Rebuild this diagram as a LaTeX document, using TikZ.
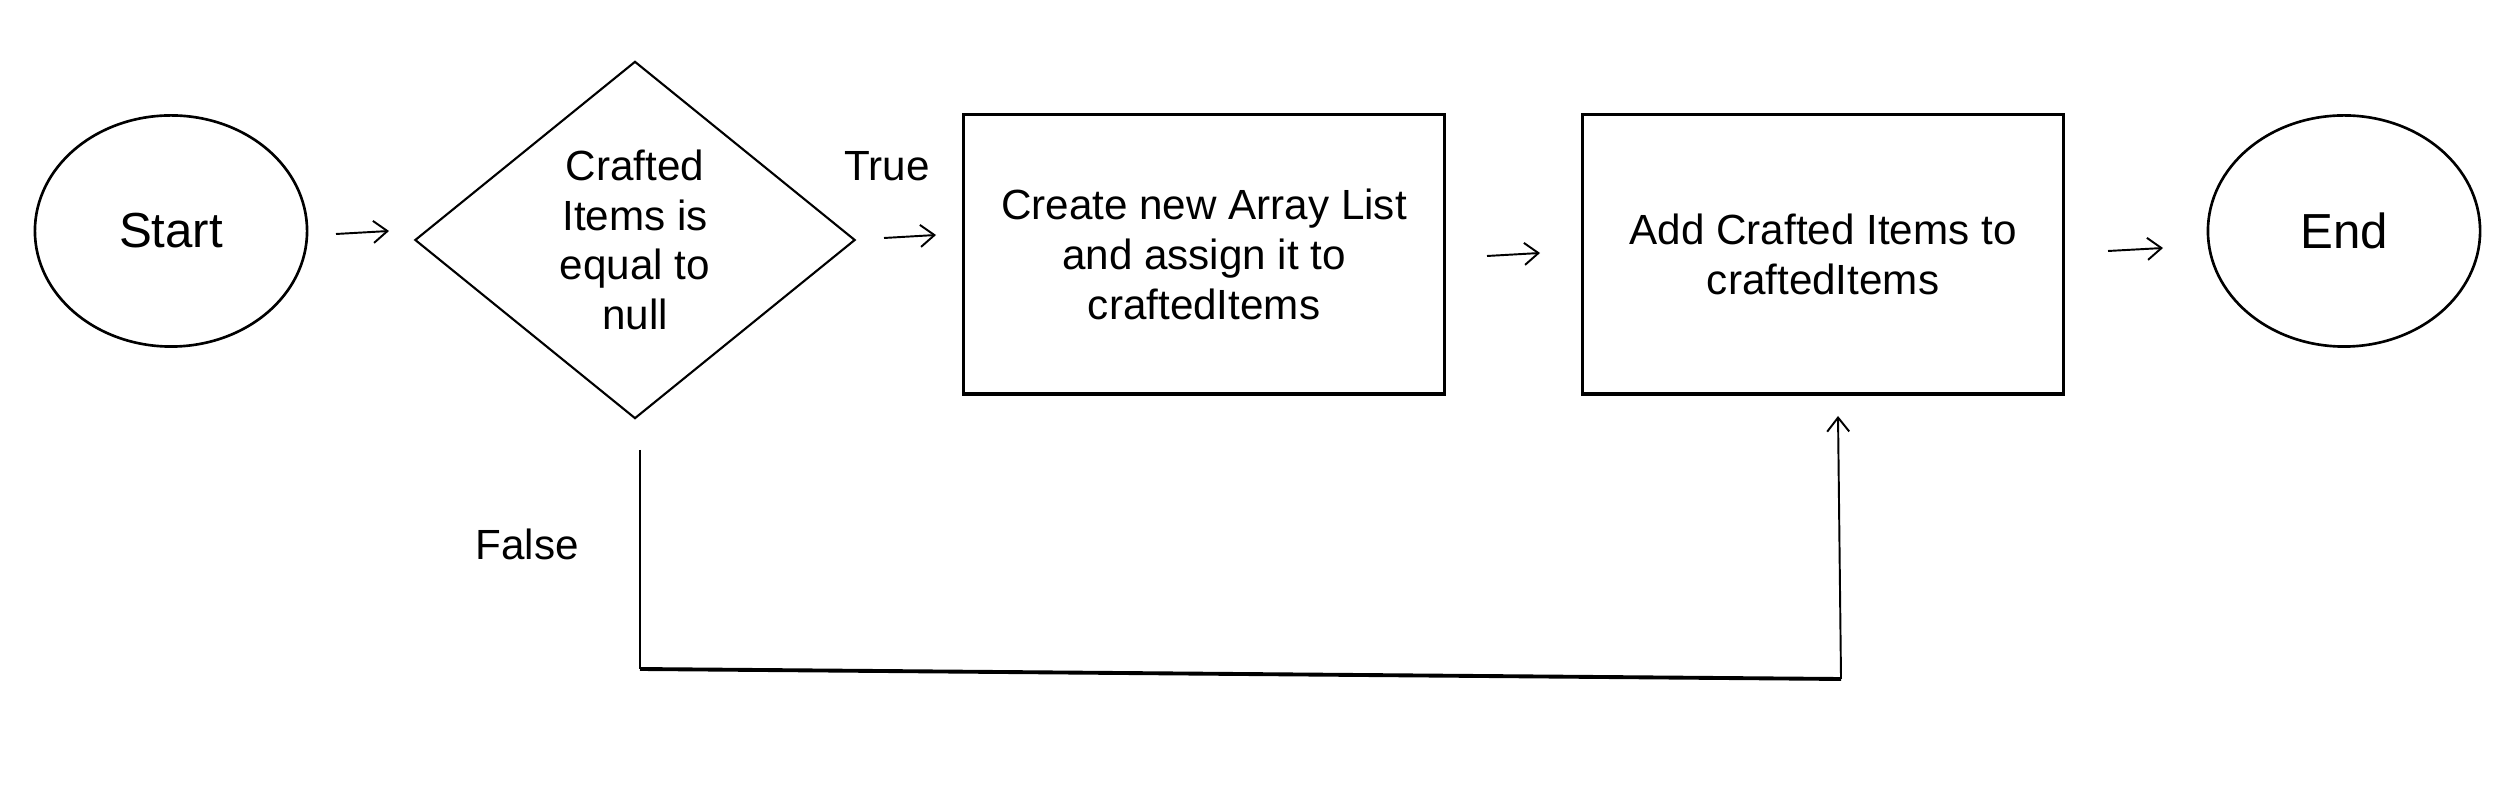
\documentclass[tikz,border=0pt]{standalone}
\usepackage{fontspec}
\setmainfont{Liberation Sans}
\usetikzlibrary{shapes.geometric,arrows.meta}
\tikzset{
  base/.style={draw=black, line width=0.75pt, font=\fontsize{12pt}{14.1pt}\selectfont, align=center, inner sep=0pt},
  terminal/.style={base, ellipse, minimum width=2.72cm, minimum height=2.31cm, font=\fontsize{14pt}{16pt}\selectfont},
  decision/.style={base, diamond, minimum width=4.4cm, minimum height=3.57cm, line width=0.6pt},
  process/.style={base, rectangle, minimum width=4.8cm, minimum height=2.79cm, line width=0.9pt},
  lbl/.style={font=\fontsize{12pt}{14.1pt}\selectfont, inner sep=0pt},
  conn/.style={line width=0.55pt, -{Straight Barb[length=1.4mm,width=2.2mm]}},
  plainline/.style={line width=0.55pt},
  heavyline/.style={line width=1.1pt}
}
\begin{document}
\begin{tikzpicture}[x=0.01cm, y=-0.01cm]
\useasboundingbox (0,0) rectangle (2510,804);
\fill[white] (0,0) rectangle (2510,804);

\node[terminal] (start) at (171,231) {Start};
\node[decision] (dec) at (635,240) {Crafted\\Items is\\equal to\\null};
\node[process] (create) at (1204,254.5) {Create new Array List\\and assign it to\\craftedItems};
\node[process] (add) at (1823,254.5) {Add Crafted Items to\\craftedItems};
\node[terminal] (end) at (2344,231) {End};

\node[lbl] (true) at (887,166) {True};
\node[lbl] (false) at (527,544) {False};

\coordinate (a1s) at (336,234);
\coordinate (a1e) at (389,231);
\coordinate (a2s) at (884,238);
\coordinate (a2e) at (936,235);
\coordinate (a3s) at (1487,256);
\coordinate (a3e) at (1540,253);
\coordinate (a4s) at (2108,251);
\coordinate (a4e) at (2163,248);

\draw[conn] (a1s) -- (a1e);
\draw[conn] (a2s) -- (a2e);
\draw[conn] (a3s) -- (a3e);
\draw[conn] (a4s) -- (a4e);

\coordinate (f1) at (640,450);
\coordinate (f2) at (640,669);
\coordinate (f3) at (1841,679);
\coordinate (f4) at (1838,416);
\draw[plainline] (f1) -- (f2);
\draw[heavyline] (f2) -- (f3);
\draw[conn] (f3) -- (f4);
\end{tikzpicture}
\end{document}
